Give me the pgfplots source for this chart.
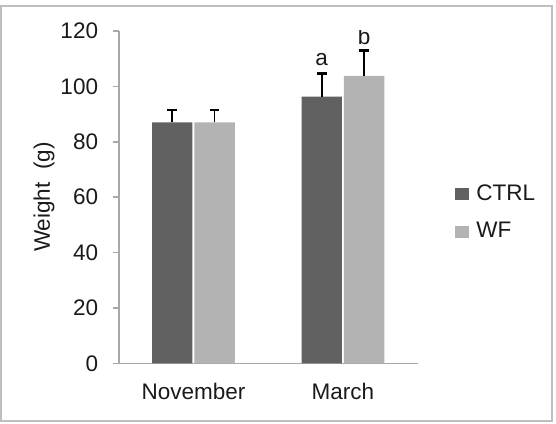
\documentclass[border=0pt]{standalone}
\usepackage{fontspec}
\setmainfont{Liberation Sans}
\usepackage{pgfplots}
\pgfplotsset{compat=1.18}
\definecolor{ctrl}{HTML}{616161}
\definecolor{wf}{HTML}{B3B3B3}
\definecolor{axisgray}{HTML}{A8A8A8}
\definecolor{framegray}{HTML}{BEBEBE}
\definecolor{txt}{HTML}{1A1A1A}
\begin{document}
\begin{tikzpicture}[font=\fontsize{11.25}{13.5}\selectfont]
\useasboundingbox (-59.35pt,-29.85pt) rectangle (218.65pt,181.65pt);
\draw[framegray, line width=0.8pt] (-58.85pt,-28.7pt) rectangle (216.5pt,178.65pt);
\begin{axis}[
  at={(0,0)}, anchor=south west,
  scale only axis, width=149.5pt, height=166.15pt,
  xmin=-0.5, xmax=1.5, ymin=0, ymax=120,
  axis lines*=left,
  axis line style={axisgray, line width=0.8pt},
  ybar=1pt, bar width=20.2pt,
  xtick={0,1}, xticklabels={November,March},
  major x tick style={draw=none},
  extra x ticks={-0.5,0.5,1.5}, extra x tick labels={},
  extra x tick style={major tick length=3.5pt, tick align=outside, major tick style={axisgray, line width=0.8pt}},
  ytick={0,20,...,120},
  tick align=outside, major tick length=2.8pt,
  major tick style={axisgray, line width=0.8pt},
  /pgf/number format/assume math mode=true,
  tick label style={font=\fontsize{11.25}{13.5}\selectfont, text=txt},
  yticklabel style={xshift=-4pt},
  xticklabel style={yshift=-3.5pt},
  ylabel={Weight\ \ (g)},
  ylabel style={at={(axis description cs:-0.2498,0.5)}, anchor=center, font=\fontsize{11.25}{13.5}\selectfont, text=txt},
  legend style={draw=none, fill=none, inner sep=0pt, anchor=west,
    at={(axis description cs:1.1224,0.4533)}, row sep=5.5pt,
    font=\fontsize{11.25}{13.5}\selectfont, text=txt,
    nodes={inner xsep=3.8pt}},
  legend cell align=left,
  legend image code/.code={\fill[#1] (0pt,-3pt) rectangle (7pt,3pt);},
]
\addplot[fill=ctrl, draw=none,
  error bars/.cd, y dir=plus, y explicit,
  error bar style={black, line width=0.8pt},
  error mark options={rotate=90, black, line width=1.4pt, mark size=2.4pt}]
  coordinates {(0,87.0) +- (0,4.5) (1,96.3) +- (0,8.3)};
\addlegendentry{CTRL}
\addplot[fill=wf, draw=none,
  error bars/.cd, y dir=plus, y explicit,
  error bar style={black, line width=0.8pt},
  error mark options={rotate=90, black, line width=1.4pt, mark size=2.4pt}]
  coordinates {(0,87.0) +- (0,4.5) (1,103.8) +- (0,9.3)};
\addlegendentry{WF}
\node[anchor=base, text=txt, xshift=-10.6pt] at (axis cs:1,107.4) {a};
\node[anchor=base, text=txt, xshift=10.6pt] at (axis cs:1,115.1) {b};
\end{axis}
\end{tikzpicture}
\end{document}
